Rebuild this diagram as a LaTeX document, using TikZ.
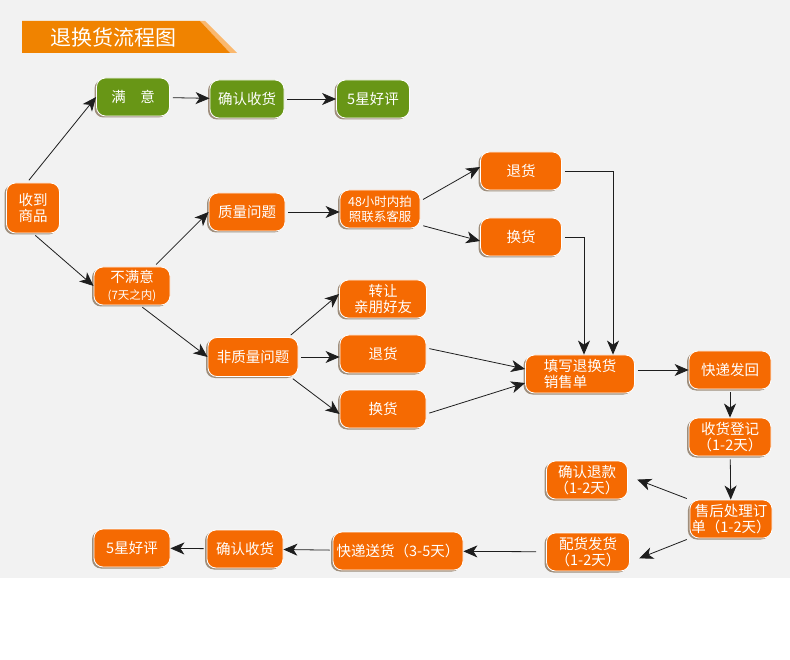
\documentclass[tikz,border=0pt]{standalone}
\usepackage{fontspec}
\usepackage{tikz}
\usetikzlibrary{positioning,arrows.meta,shadows,calc}
\newfontfamily\cjk{Noto Sans CJK SC}
\definecolor{flowbg}{RGB}{242,242,242}
\definecolor{tangerine}{RGB}{245,106,2}
\definecolor{leaf}{RGB}{104,150,22}
\definecolor{bannerorange}{RGB}{240,131,0}
\definecolor{bannerlight}{RGB}{250,184,110}
\definecolor{rim}{RGB}{150,132,112}
\definecolor{ink}{RGB}{30,30,30}
\tikzset{
  box/.style={draw=white, line width=0.8pt, rounded corners=9pt, fill=#1, text=white, align=center, minimum width=76pt, minimum height=38pt, inner sep=1.5pt, font=\cjk\fontsize{14.5}{16.5}\selectfont, drop shadow={shadow xshift=-2pt, shadow yshift=-1.5pt, fill=rim, opacity=0.9}},
  box/.default={tangerine},
  arrow/.style={-{Stealth[length=14pt, width=12pt, inset=4pt]}, line width=0.8pt, draw=ink, shorten <=3pt},
  small/.style={font=\cjk\fontsize{12.5}{15}\selectfont}
}

\begin{document}
\begin{tikzpicture}[x=1pt, y=-1pt]
  \useasboundingbox (0,0) rectangle (790,660);
  \fill[flowbg] (0,0) rectangle (790,578);
  % banner
  \fill[bannerlight] (200,21) -- (205,21) -- (237,53) -- (230,53) -- cycle;
  \fill[bannerorange] (22,21) -- (200,21) -- (230,53) -- (22,53) -- cycle;
  \node[font=\cjk\fontsize{21}{24}\selectfont, text=white, anchor=west, inner sep=0pt] (title) at (50,37) {退换货流程图};
  % happy path
  \node[box=leaf, minimum width=73pt] (sat) at (133,97) {满\quad 意};
  \node[box=leaf, minimum width=74pt] (okgreen) at (247,99) {确认收货};
  \node[box=leaf, minimum width=73pt] (stargreen) at (373,99) {5星好评};
  % not satisfied
  \node[box, minimum width=53pt, minimum height=50pt] (recv) at (33,208) {收到\\商品};
  \node[box] (unsat) at (132,286) {不满意\\{\fontsize{11.5}{13}\selectfont(7天之内)}};
  \node[box] (quality) at (247,212) {质量问题};
  \node[box, small, minimum width=80pt] (photo) at (380,209) {48小时内拍\\照联系客服};
  \node[box, minimum width=81pt] (retA) at (521,171) {退货};
  \node[box, minimum width=81pt] (exA) at (521,237) {换货};
  \node[box, minimum width=87pt] (gift) at (383,299) {转让\\亲朋好友};
  \node[box, minimum width=90pt, minimum height=39pt] (nonq) at (253,357) {非质量问题};
  \node[box, minimum width=86pt] (retB) at (383,354) {退货};
  \node[box, minimum width=86pt] (exB) at (383,409) {换货};
  \node[box, minimum width=109pt, align=left] (form) at (580,374) {填写退换货\\销售单};
  \node[box, minimum width=82pt] (back) at (730,370) {快递发回};
  \node[box, minimum width=82pt] (log) at (730,437) {收货登记\\（1-2天）};
  \node[box, minimum width=81pt] (refund) at (587,480) {确认退款\\（1-2天）};
  \node[box, minimum width=82pt] (after) at (731,519) {售后处理订\\单（1-2天）};
  \node[box, minimum width=83pt] (ship) at (588,552) {配货发货\\（1-2天）};
  \node[box, minimum width=130pt] (deliver) at (398,551) {快递送货（3-5天）};
  \node[box] (okorange) at (245,549) {确认收货};
  \node[box] (starorange) at (132,548) {5星好评};
  % connectors
  \draw[arrow] ([xshift=-6]recv.north) -- (sat.west);
  \draw[arrow] (recv.south) -- (unsat.west);
  \draw[arrow] (sat) -- (okgreen);
  \draw[arrow] (okgreen) -- (stargreen);
  \draw[arrow] ([xshift=22]unsat.north) -- (quality.west);
  \draw[arrow] ([xshift=8]unsat.south) -- (nonq.west);
  \draw[arrow] (quality.east) -- (quality.east -| photo.west);
  \draw[arrow] ([yshift=8]photo.east) -- ([yshift=4]retA.west);
  \draw[arrow] ([yshift=-16]photo.east) -- ([yshift=-4]exA.west);
  \draw[arrow] (retA.east) -| ([xshift=33]form.north);
  \draw[arrow] (exA.east) -| ([xshift=4]form.north);
  \draw[arrow] ([xshift=-10]nonq.north east) -- ([yshift=5]gift.west);
  \draw[arrow] (nonq.east) -- (nonq.east -| retB.west);
  \draw[arrow] ([xshift=-8]nonq.south east) -- ([yshift=-5]exB.west);
  \draw[arrow] ([yshift=6]retB.east) -- ([yshift=5]form.west);
  \draw[arrow] ([yshift=-5]exB.east) -- ([yshift=-9]form.west);
  \draw[arrow] ([yshift=4]form.east) -- (back.west);
  \draw[arrow] (back) -- (log);
  \draw[arrow] (log) -- (after);
  \draw[arrow, shorten >=10pt] (after.north west) -- ([yshift=4]refund.east);
  \draw[arrow, shorten >=10pt] (after.south west) -- ([yshift=-10]ship.east);
  \draw[arrow, shorten <=10pt] (ship) -- (deliver);
  \draw[arrow] (deliver) -- (okorange);
  \draw[arrow] (okorange) -- (starorange);
\end{tikzpicture}
\end{document}
